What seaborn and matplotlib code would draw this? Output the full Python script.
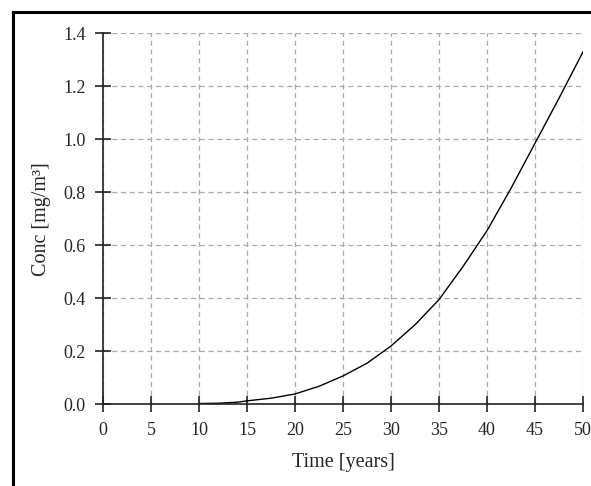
import numpy as np
import pandas as pd
import seaborn as sns
import matplotlib.pyplot as plt
from matplotlib.patches import Rectangle

# values
time_years = [10, 12, 14, 15, 17.5, 20, 22.5, 25, 27.5, 30, 32.5, 35, 37.5, 40, 42.5, 45, 47.5, 50]
conc = [0.003, 0.004, 0.008, 0.013, 0.023, 0.039, 0.068, 0.107, 0.155, 0.22, 0.30, 0.395,
        0.52, 0.655, 0.815, 0.985, 1.155, 1.33]

x_ticks = list(range(0, 55, 5))
y_ticks = [0.0, 0.2, 0.4, 0.6, 0.8, 1.0, 1.2, 1.4]

sns.set_style("white")
plt.rcParams['font.family'] = ['Liberation Serif', 'DejaVu Serif']

df = pd.DataFrame({'Time': time_years, 'Conc': conc})

fig = plt.figure(figsize=(5.91, 4.86), dpi=100)
ax = fig.add_axes([103 / 591, 1 - 404.3 / 486, 480 / 591, 371 / 486])

sns.lineplot(data=df, x='Time', y='Conc', color='black', linewidth=1.0, ax=ax)

ax.set_xlim(0, 50)
ax.set_ylim(0, 1.4)
ax.set_xticks(x_ticks)
ax.set_yticks(y_ticks)
ax.set_yticklabels([f"{v:.1f}" for v in y_ticks])
ax.grid(True, linestyle=(0, (4, 3)), color='#a8a8a8', linewidth=0.9)
ax.set_axisbelow(True)

for s in ['top', 'right']:
    ax.spines[s].set_visible(False)
for s in ['left', 'bottom']:
    ax.spines[s].set_color('#222222')
    ax.spines[s].set_linewidth(1.2)

ax.tick_params(axis='both', direction='inout', length=11, width=1.2, color='#222222',
               bottom=True, left=True, labelsize=13, pad=7)
ax.set_xlabel('Time [years]', fontsize=14.5, labelpad=10)
ax.set_ylabel('Conc [mg/m³]', fontsize=14.5, labelpad=9)

# outer frame of the screenshot
fig.patches.append(Rectangle((13 / 591, -0.1), 1.2, 1 - 12 / 486 + 0.1,
                             transform=fig.transFigure, fill=False,
                             edgecolor='black', linewidth=2.2))

fig.savefig('out.png', dpi=100)
